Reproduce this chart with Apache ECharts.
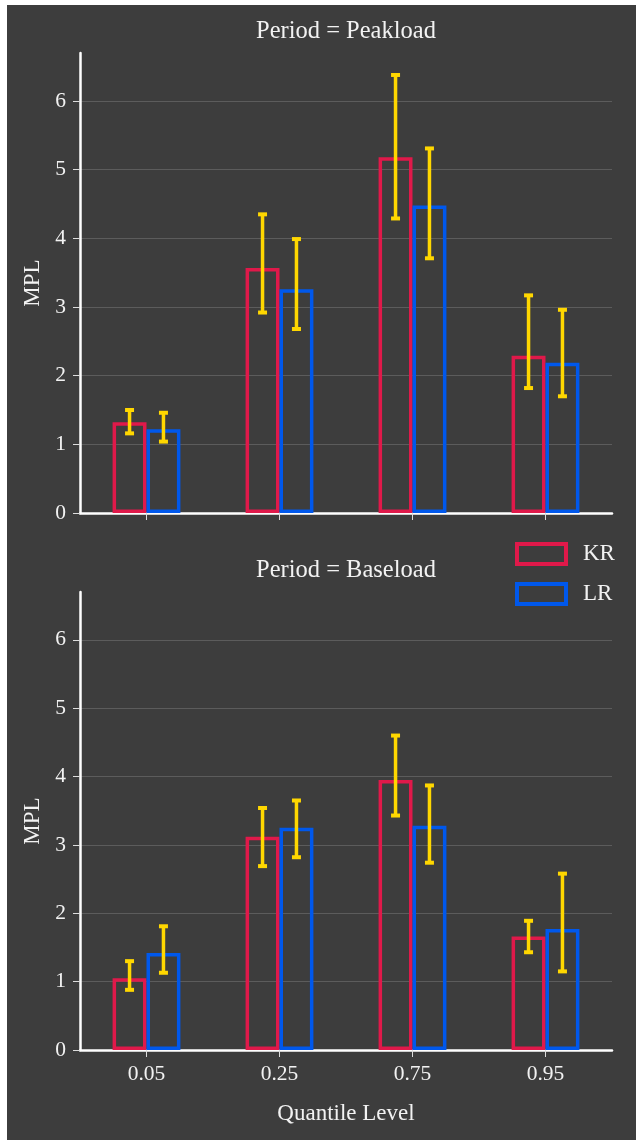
<!DOCTYPE html>
<html><head><meta charset="utf-8">
<script src="https://cdn.jsdelivr.net/npm/echarts@6/dist/echarts.min.js"></script>
<style>
html,body{margin:0;padding:0;background:#fff;}
#bg{position:absolute;left:7px;top:5px;width:629px;height:1135px;background:#3d3d3d;}
#chart{position:absolute;left:0;top:0;width:636px;height:1140px;}
</style></head><body>
<div id="bg"></div><div id="chart"></div>
<script>
const categories = ['0.05', '0.25', '0.75', '0.95'];
const seriesNames = ['KR', 'LR'];
const panelTitles = ['Period = Peakload', 'Period = Baseload'];
const peakKR = [1.32, 3.57, 5.18, 2.29];
const peakLR = [1.22, 3.26, 4.48, 2.19];
const peakKRLow = [1.16, 2.92, 4.29, 1.82];
const peakKRHigh = [1.50, 4.35, 6.38, 3.17];
const peakLRLow = [1.04, 2.68, 3.71, 1.70];
const peakLRHigh = [1.46, 3.99, 5.31, 2.96];
const baseKR = [1.05, 3.12, 3.95, 1.66];
const baseLR = [1.42, 3.25, 3.28, 1.77];
const baseKRLow = [0.88, 2.69, 3.43, 1.43];
const baseKRHigh = [1.30, 3.54, 4.60, 1.89];
const baseLRLow = [1.13, 2.82, 2.74, 1.15];
const baseLRHigh = [1.81, 3.65, 3.87, 2.58];
const yTicks = [0, 1, 2, 3, 4, 5, 6];
const yMax = 6.7;

const FONT = 'Liberation Serif, DejaVu Serif, serif';
const TXT = '#f2f2f2';
const RED = '#e0194a';
const BLUE = '#0058ec';
const GOLD = '#ffd700';
const GRIDC = '#5c5c5c';

const chart = echarts.init(document.getElementById('chart'), null, {renderer: 'canvas'});

function errSeries(gi, lows, highs, offset) {
  return {
    type: 'custom', xAxisIndex: gi, yAxisIndex: gi, z: 10, silent: true,
    data: lows.map((l, i) => [i, l, highs[i]]),
    renderItem: (params, api) => {
      const i = api.value(0);
      const band = api.size([1, 0])[0];
      const lo = api.coord([i, api.value(1)]);
      const hi = api.coord([i, api.value(2)]);
      const x = lo[0] + offset * band;
      const cap = 4.5;
      const st = {stroke: GOLD, lineWidth: 3.5};
      const cs = {stroke: GOLD, lineWidth: 4};
      return {type: 'group', children: [
        {type: 'line', shape: {x1: x, y1: lo[1], x2: x, y2: hi[1]}, style: st},
        {type: 'line', shape: {x1: x - cap, y1: lo[1], x2: x + cap, y2: lo[1]}, style: cs},
        {type: 'line', shape: {x1: x - cap, y1: hi[1], x2: x + cap, y2: hi[1]}, style: cs}
      ]};
    }
  };
}

function barSeries(gi, name, data, color) {
  return {
    type: 'bar', name: name, xAxisIndex: gi, yAxisIndex: gi, data: data,
    barWidth: '25.5%', barGap: '0%',
    itemStyle: {color: 'rgba(0,0,0,0)', borderColor: color, borderWidth: 3.5},
    emphasis: {disabled: true}
  };
}

function xAxis(gi, showLabels) {
  const ax = {
    type: 'category', gridIndex: gi, data: categories, boundaryGap: true,
    axisLine: {show: true, lineStyle: {color: '#ffffff', width: 2.5}},
    axisTick: {show: true, alignWithLabel: true, length: 7, lineStyle: {color: '#dddddd', width: 1}},
    axisLabel: {show: showLabels, color: TXT, fontFamily: FONT, fontSize: 21.5, margin: 13},
    splitLine: {show: false}
  };
  if (showLabels) {
    ax.name = 'Quantile Level';
    ax.nameLocation = 'middle';
    ax.nameGap = 52;
    ax.nameTextStyle = {color: TXT, fontFamily: FONT, fontSize: 23};
  }
  return ax;
}

function yAxis(gi) {
  return {
    type: 'value', gridIndex: gi, min: 0, max: yMax, interval: 1,
    name: 'MPL', nameLocation: 'middle', nameGap: 35,
    nameTextStyle: {color: TXT, fontFamily: FONT, fontSize: 23},
    axisLine: {show: true, lineStyle: {color: '#ffffff', width: 2.5}},
    axisTick: {show: true, length: 7, customValues: yTicks, lineStyle: {color: '#dddddd', width: 1}},
    axisLabel: {customValues: yTicks, color: TXT, fontFamily: FONT, fontSize: 21.5, margin: 14,
      formatter: v => String(v)},
    splitLine: {show: true, lineStyle: {color: yTicks.map(() => GRIDC).concat(['rgba(0,0,0,0)']), width: 1.2}}
  };
}

const option = {
  animation: false,
  backgroundColor: 'transparent',
  textStyle: {fontFamily: FONT},
  grid: [
    {left: 80, right: 24, top: 53, height: 460},
    {left: 80, right: 24, top: 592, height: 458}
  ],
  xAxis: [xAxis(0, false), xAxis(1, true)],
  yAxis: [yAxis(0), yAxis(1)],
  legend: {
    orient: 'vertical', left: 515, top: 542, padding: 0,
    itemWidth: 49, itemHeight: 20, itemGap: 16,
    textStyle: {color: TXT, fontFamily: FONT, fontSize: 23, padding: [0, 0, 0, 12]},
    data: [
      {name: seriesNames[0], icon: 'rect', itemStyle: {color: 'rgba(0,0,0,0)', borderColor: RED, borderWidth: 4}},
      {name: seriesNames[1], icon: 'rect', itemStyle: {color: 'rgba(0,0,0,0)', borderColor: BLUE, borderWidth: 4}}
    ],
    selectedMode: false
  },
  graphic: [
    {type: 'text', x: 346, y: 32, style: {text: panelTitles[0], textAlign: 'center', textVerticalAlign: 'middle', fill: TXT, font: '24.5px ' + FONT}},
    {type: 'text', x: 346, y: 571, style: {text: panelTitles[1], textAlign: 'center', textVerticalAlign: 'middle', fill: TXT, font: '24.5px ' + FONT}}
  ],
  series: [
    barSeries(0, seriesNames[0], peakKR, RED),
    barSeries(0, seriesNames[1], peakLR, BLUE),
    barSeries(1, seriesNames[0], baseKR, RED),
    barSeries(1, seriesNames[1], baseLR, BLUE),
    errSeries(0, peakKRLow, peakKRHigh, -0.1275),
    errSeries(0, peakLRLow, peakLRHigh, 0.1275),
    errSeries(1, baseKRLow, baseKRHigh, -0.1275),
    errSeries(1, baseLRLow, baseLRHigh, 0.1275)
  ]
};
chart.setOption(option);
</script>
</body></html>
